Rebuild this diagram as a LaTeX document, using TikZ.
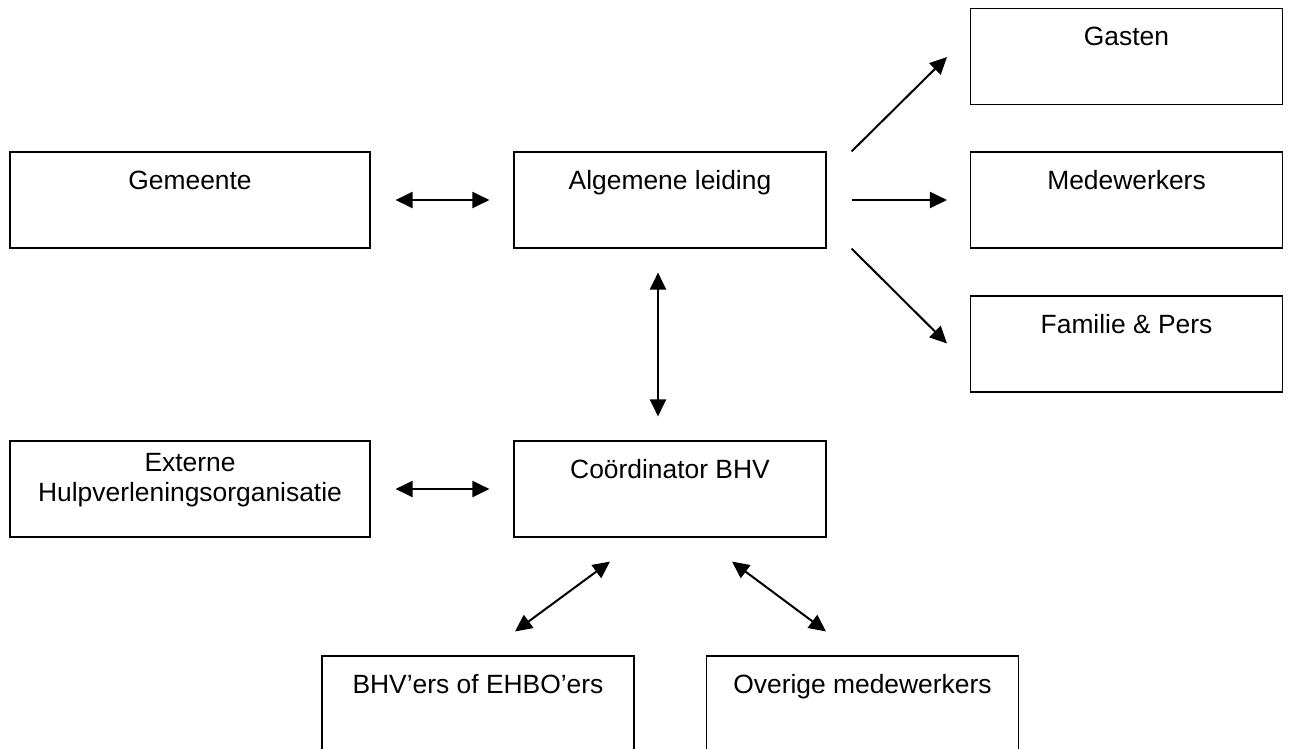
\documentclass[tikz,border=0pt]{standalone}
\usepackage{fontspec}
\setmainfont{Liberation Sans}
\usetikzlibrary{arrows.meta,calc}
\begin{document}
\begin{tikzpicture}[x=1pt,y=-1pt,
  box/.style={draw, line width=1.1pt, inner sep=0pt, minimum height=96pt,
    text height=37pt, text depth=59pt, font=\fontsize{26.4}{30.4}\selectfont},
  wide/.style={box, minimum width=360pt},
  narrow/.style={box, minimum width=312pt},
  arr/.style={line width=2pt, -{Triangle[length=17pt,width=16pt]}},
  darr/.style={line width=2pt, {Triangle[length=17pt,width=16pt]}-{Triangle[length=17pt,width=16pt]}}
]
\fill[white] (0,0) rectangle (1290,748);
\useasboundingbox (0,0) rectangle (1290,748);
\clip (0,0) rectangle (1290,748);

\node[wide]   (gem) at (190,200)    {Gemeente};
\node[narrow] (alg) at (670,200)    {Algemene leiding};
\node[narrow] (gas) at (1126.5,56.5) {Gasten};
\node[narrow] (med) at (1126.5,200) {Medewerkers};
\node[narrow] (fam) at (1126.5,344) {Familie \& Pers};
\node[wide, text height=30pt, text depth=66pt] (ext) at (190,489)
  {\begin{tabular}[t]{@{}c@{}}Externe\\Hulpverleningsorganisatie\end{tabular}};
\node[narrow] (coo) at (670,489)    {Coördinator BHV};
\node[narrow] (bhv) at (478,704)    {BHV’ers of EHBO’ers};
\node[narrow] (ove) at (862.5,704)  {Overige medewerkers};

\draw[darr] ($(gem.east)+(25,0)$) -- ($(alg.west)+(-24,0)$);
\draw[arr]  ($(alg.north east)+(25,0)$) -- ($(gas.south west)+(-23,-48)$);
\draw[arr]  ($(alg.east)+(25,0)$) -- ($(med.west)+(-23,0)$);
\draw[arr]  ($(alg.south east)+(25,0)$) -- ($(fam.north west)+(-23,48)$);
\draw[darr] ($(alg.south)+(-12,24)$) -- ($(coo.north)+(-12,-24)$);
\draw[darr] ($(ext.east)+(25,0)$) -- ($(coo.west)+(-24,0)$);
\draw[darr] ($(coo.south)+(-60,24)$) -- ($(bhv.north)+(37,-24)$);
\draw[darr] ($(coo.south)+(62,24)$) -- ($(ove.north)+(-36.5,-24)$);
\end{tikzpicture}
\end{document}
